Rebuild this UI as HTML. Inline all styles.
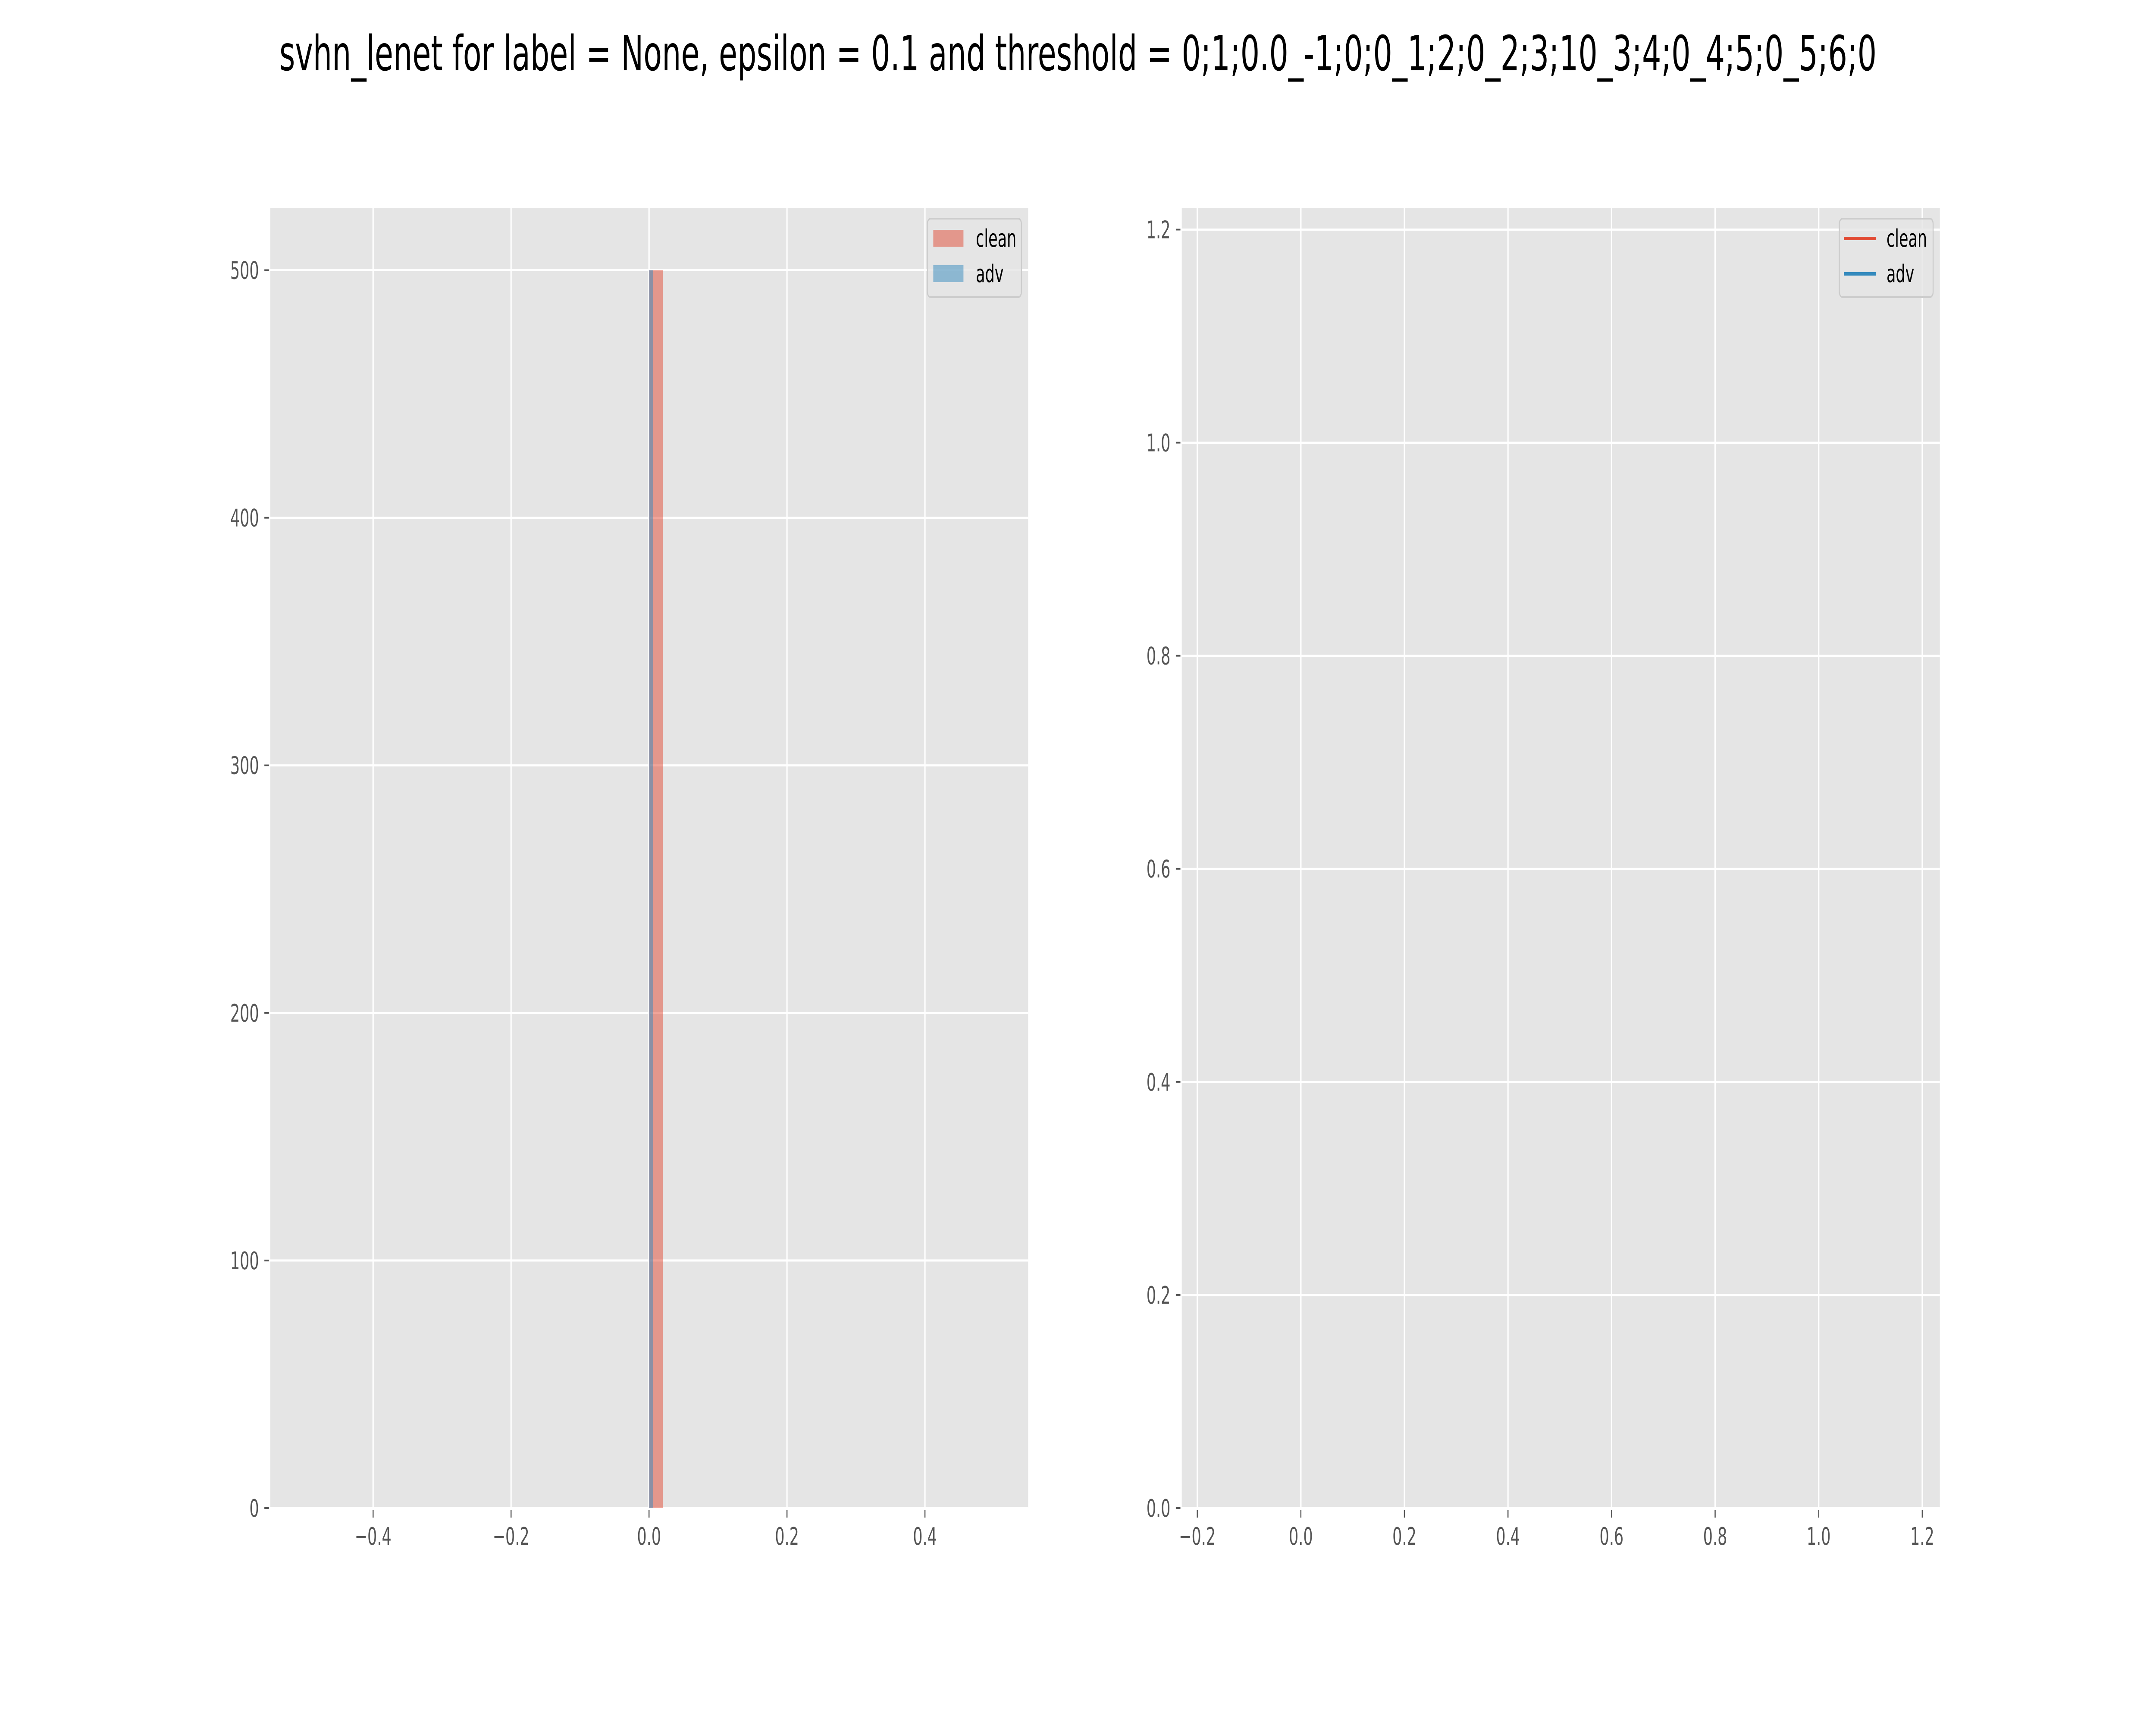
<!DOCTYPE html>
<html><head><meta charset="utf-8"><style>
html,body{margin:0;padding:0;background:#fff;width:100%;height:100%;overflow:hidden;}
svg{display:block;width:100vw;height:100vh;font-family:"DejaVu Sans","Liberation Sans",sans-serif;}
</style></head><body>
<svg id="fig" viewBox="0 0 8000 4000" preserveAspectRatio="none" xmlns="http://www.w3.org/2000/svg">
<rect width="8000" height="4000" fill="#fff"/>
<text x="4000" y="163" font-size="112" text-anchor="middle" fill="#000">svhn_lenet for label = None, epsilon = 0.1 and threshold = 0;1;0.0_-1;0;0_1;2;0_2;3;10_3;4;0_4;5;0_5;6;0</text>
<g id="left"></g>
<g id="right"></g>
</svg>
<script>
// Left histogram data
const histXTicks = [-0.4, -0.2, 0.0, 0.2, 0.4];
const histYTicks = [0, 100, 200, 300, 400, 500];
const histSeries = ['clean', 'adv'];
const cleanBinStart = [0.0];
const cleanBinEnd = [0.02];
const cleanCounts = [500];
const advBinStart = [0.0];
const advBinEnd = [0.006];
const advCounts = [500];
// Right line chart data
const lineXTicks = [-0.2, 0.0, 0.2, 0.4, 0.6, 0.8, 1.0, 1.2];
const lineYTicks = [0.0, 0.2, 0.4, 0.6, 0.8, 1.0, 1.2];
const lineSeries = ['clean', 'adv'];
const cleanLineX = [];
const cleanLineY = [];
const advLineX = [];
const advLineY = [];

const NS = 'http://www.w3.org/2000/svg';
function mk(tag, attrs, parent) {
  const e = document.createElementNS(NS, tag);
  for (const k in attrs) e.setAttribute(k, attrs[k]);
  parent.appendChild(e);
  return e;
}
function fmt(v, d) { return (v < 0 ? '\u2212' : '') + Math.abs(v).toFixed(d); }

function panel(g, L, R, T, B, xmin, xmax, ymin, ymax, xt, yt, xd, yd) {
  const sx = v => L + (v - xmin) / (xmax - xmin) * (R - L);
  const sy = v => B - (v - ymin) / (ymax - ymin) * (B - T);
  const bg = mk('rect', {x: L, y: T, width: R - L, height: B - T, fill: '#e5e5e5'}, g);
  
  
  xt.forEach(v => {
    const x = sx(v);
    const gl = mk('line', {x1: x, x2: x, y1: T, y2: B, stroke: '#fff', 'stroke-width': 5}, g);
    
    
    const tk = mk('line', {x1: x, x2: x, y1: B + 5, y2: B + 22, stroke: '#555', 'stroke-width': 4}, g);
    
    
    const t = mk('text', {x: x, y: B + 85, 'font-size': 56, fill: '#555', 'text-anchor': 'middle'}, g);
    t.textContent = fmt(v, xd);
    
    
  });
  yt.forEach(v => {
    const y = sy(v);
    const gl = mk('line', {x1: L, x2: R, y1: y, y2: y, stroke: '#fff', 'stroke-width': 5}, g);
    
    
    const tk = mk('line', {x1: L - 22, x2: L - 5, y1: y, y2: y, stroke: '#555', 'stroke-width': 4}, g);
    
    
    const t = mk('text', {x: L - 42, y: y + 20, 'font-size': 56, fill: '#555', 'text-anchor': 'end'}, g);
    t.textContent = fmt(v, yd);
    
    
  });
  return {sx, sy};
}

// Left panel
const gl = document.getElementById('left');
const A = panel(gl, 1003, 3815, 483, 3497, -0.549, 0.5496, 0, 525, histXTicks, histYTicks, 1, 0);
cleanCounts.forEach((c, i) => {
  const x0 = A.sx(cleanBinStart[i]), x1 = A.sx(cleanBinEnd[i]);
  const r = mk('rect', {x: x0, y: A.sy(c), width: x1 - x0, height: A.sy(0) - A.sy(c), fill: '#e24a33', 'fill-opacity': 0.5}, gl);
  
  
});
advCounts.forEach((c, i) => {
  const x0 = A.sx(advBinStart[i]), x1 = A.sx(advBinEnd[i]);
  const r = mk('rect', {x: x0, y: A.sy(c), width: x1 - x0, height: A.sy(0) - A.sy(c), fill: '#348abd', 'fill-opacity': 0.5}, gl);
  
  
});
const lg1 = mk('g', {}, gl);


mk('rect', {x: 3441, y: 507, width: 349, height: 182, rx: 12, fill: '#e5e5e5', 'fill-opacity': 0.8, stroke: '#cccccc', 'stroke-width': 4}, lg1);
['#e24a33', '#348abd'].forEach((c, i) => {
  const p = mk('rect', {x: 3463, y: 533 + i * 82, width: 112, height: 39, fill: c, 'fill-opacity': 0.5}, lg1);
  
  
  const t = mk('text', {x: 3621, y: 572 + i * 82, 'font-size': 56, fill: '#000'}, lg1);
  t.textContent = histSeries[i];
  
  
});

// Right panel
const gr = document.getElementById('right');
const B = panel(gr, 4385, 7198, 483, 3497, -0.23, 1.234, 0, 1.22, lineXTicks, lineYTicks, 1, 1);
[[cleanLineX, cleanLineY, '#e24a33', 'line-clean'], [advLineX, advLineY, '#348abd', 'line-adv']].forEach(s => {
  if (!s[0].length) return;
  const pts = s[0].map((x, i) => B.sx(x) + ',' + B.sy(s[1][i])).join(' ');
  const pl = mk('polyline', {points: pts, fill: 'none', stroke: s[2], 'stroke-width': 7}, gr);
  
  
});
const lg2 = mk('g', {}, gr);


mk('rect', {x: 6825, y: 507, width: 348, height: 182, rx: 12, fill: '#e5e5e5', 'fill-opacity': 0.8, stroke: '#cccccc', 'stroke-width': 4}, lg2);
['#e24a33', '#348abd'].forEach((c, i) => {
  const p = mk('line', {x1: 6842, x2: 6960, y1: 553 + i * 82, y2: 553 + i * 82, stroke: c, 'stroke-width': 8}, lg2);
  
  
  const t = mk('text', {x: 7000, y: 572 + i * 82, 'font-size': 56, fill: '#000'}, lg2);
  t.textContent = lineSeries[i];
  
  
});
</script>
</body></html>
